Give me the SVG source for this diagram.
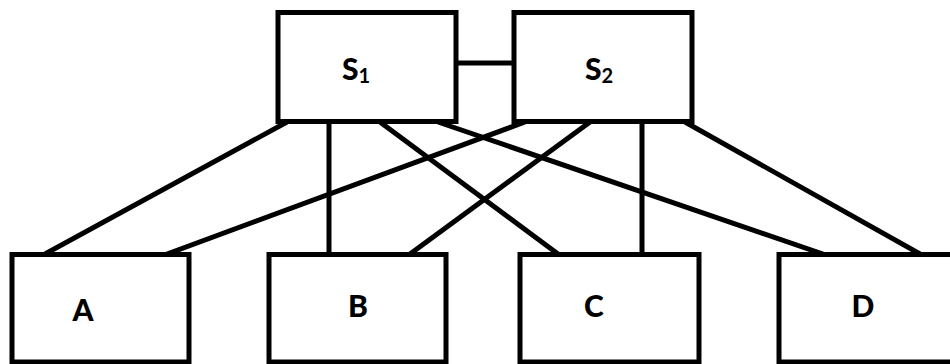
<svg xmlns="http://www.w3.org/2000/svg" width="950" height="364" viewBox="0 0 950 364">
<style>
rect{fill:#fff;stroke:#000;stroke-width:5}
line{stroke:#000;stroke-width:5}
text{font-family:Lato,"Open Sans","Liberation Sans",sans-serif;font-weight:900;font-size:30px;fill:#000;text-anchor:middle}
.sub{font-size:20px;font-weight:bold}
</style>
<rect width="950" height="364" style="fill:#fff;stroke:none"/>
<g id="connectors">
<line x1="456" y1="63" x2="514" y2="63"/>
<line x1="287" y1="122" x2="45" y2="254"/>
<line x1="329" y1="122" x2="329" y2="254"/>
<line x1="380" y1="122" x2="558" y2="254"/>
<line x1="438" y1="122" x2="823" y2="254"/>
<line x1="525" y1="122" x2="167" y2="254"/>
<line x1="590" y1="122" x2="410" y2="254"/>
<line x1="642" y1="122" x2="642" y2="254"/>
<line x1="685" y1="122" x2="920" y2="254"/>
</g>
<g id="S1"><rect x="278" y="12.5" width="178" height="109"/><text x="356" y="80">S<tspan class="sub" dy="3">1</tspan></text></g>
<g id="S2"><rect x="514" y="12.5" width="178" height="109"/><text x="599" y="80">S<tspan class="sub" dy="3">2</tspan></text></g>
<g id="A"><rect x="12" y="254.5" width="177" height="107.5"/><text x="83" y="321">A</text></g>
<g id="B"><rect x="269" y="254.5" width="177" height="107.5"/><text x="358" y="317">B</text></g>
<g id="C"><rect x="520" y="254.5" width="179" height="107.5"/><text x="594" y="317">C</text></g>
<g id="D"><rect x="779" y="254.5" width="180" height="107.5"/><text x="863" y="317">D</text></g>
</svg>
